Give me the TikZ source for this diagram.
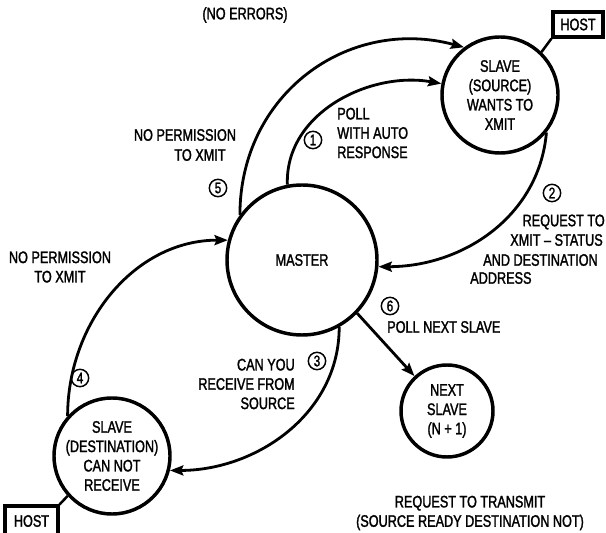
\documentclass[tikz,border=0pt]{standalone}
\usepackage{fontspec}
\setmainfont{Liberation Sans}[FakeStretch=0.76,FakeBold=1.6]
\usetikzlibrary{arrows.meta}
\begin{document}
\begin{tikzpicture}[x=0.75pt,y=0.75pt,
  every node/.style={font=\fontsize{12.5}{14.5}\selectfont},
  state/.style={draw,circle,line width=2.6pt,inner sep=0pt,align=center},
  hostbox/.style={draw,rectangle,line width=2.3pt,inner sep=0pt},
  flow/.style={line width=2.1pt,-{Stealth[length=10pt,width=7.5pt,inset=1.5pt]}},
  hostline/.style={line width=1.9pt},
  num/.style={draw,circle,line width=1.1pt,inner sep=0pt,minimum size=13pt,font=\fontsize{11.5}{11.5}\selectfont},
  lbl/.style={align=center,inner sep=0pt}
]
\useasboundingbox (0,0) rectangle (606,532);
% states
\node[state,minimum size=112.5pt] (master) at (302,272) {MASTER};
\node[state,minimum size=87pt] (source) at (500,437) {SLAVE\\(SOURCE)\\WANTS TO\\XMIT};
\node[state,minimum size=87pt] (dest) at (112,76) {SLAVE\\(DESTINATION)\\CAN NOT\\RECEIVE};
\node[state,minimum size=69pt] (next) at (447,121) {NEXT\\SLAVE\\(N + 1)};
\node[hostbox,minimum width=37.5pt,minimum height=18.75pt] (hostA) at (578,507.5) {HOST};
\node[hostbox,minimum width=39.75pt,minimum height=22.5pt] (hostB) at (31.5,11) {HOST};
% host connections
\draw[hostline] (source.46) -- (hostA.south west);
\draw[hostline] (dest.222) -- (hostB.north east);
% flows
\draw[flow] (master.101) to[out=92,in=170] (source.169);
\draw[flow] (master.144) to[out=90,in=165,looseness=1.1] (source.127);
\draw[flow] (source.-39) to[out=-95,in=0] (master.-5);
\draw[flow] (master.-61) to[out=-90,in=0] (dest.-14);
\draw[flow] (dest.138) to[out=90,in=180] (master.165);
\draw[flow] (master.-44) -- (next.133);
% labels
\node[lbl] (noerr) at (245,517) {(NO ERRORS)};
\node[lbl] (perm1a) at (185,397) {NO PERMISSION};
\node[lbl] (perm1b) at (200,377) {TO XMIT};
\node[num] (n5) at (218,344) {5};
\node[num] (n1) at (313,392) {1};
\node[lbl,anchor=west,align=left] (poll) at (337,399) {POLL\\WITH AUTO\\RESPONSE};
\node[num] (n2) at (552,339) {2};
\node[lbl,anchor=east] (req1) at (605,310) {REQUEST TO};
\node[lbl,anchor=west] (req2) at (510,292) {XMIT – STATUS};
\node[lbl,anchor=west] (req3) at (483,272) {AND DESTINATION};
\node[lbl,anchor=west] (req4) at (470,254) {ADDRESS};
\node[num] (n6) at (390,226) {6};
\node[lbl,anchor=west] (pollnext) at (387,205) {POLL NEXT SLAVE};
\node[lbl,anchor=east,align=right] (can) at (295,148) {CAN YOU\\RECEIVE FROM\\SOURCE};
\node[num] (n3) at (317,171) {3};
\node[lbl] (perm2) at (60,265) {NO PERMISSION\\TO XMIT};
\node[num] (n4) at (80,154) {4};
\node[lbl] (bottom) at (470,19) {REQUEST TO TRANSMIT\\(SOURCE READY DESTINATION NOT)};
\end{tikzpicture}
\end{document}
